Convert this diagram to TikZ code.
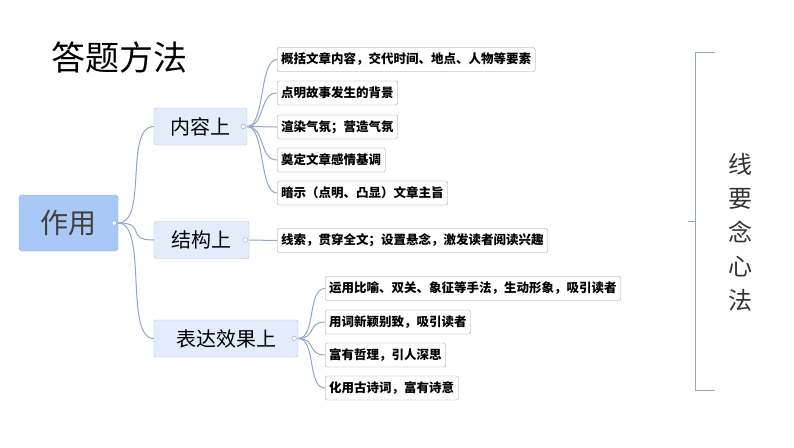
\documentclass[tikz,border=0pt]{standalone}
\usepackage{fontspec}
\newfontfamily\cjk{Noto Sans CJK SC}
\usetikzlibrary{positioning}
\definecolor{rootfill}{HTML}{A9C8F5}
\definecolor{subfill}{HTML}{E3ECFA}
\definecolor{branch}{HTML}{91A5CC}
\tikzset{
  rootbox/.style={draw=branch, fill=rootfill, rounded corners=3pt, font=\cjk\fontsize{28}{30}\selectfont, text=black!75, minimum width=99pt, minimum height=56pt, inner sep=0pt},
  subbox/.style={draw=branch!70, fill=subfill, rounded corners=2pt, font=\cjk\fontsize{20}{22}\selectfont, minimum height=37pt, inner sep=4pt},
  leafbox/.style={draw=black!40, fill=white, rounded corners=1.5pt, font=\cjk\bfseries\fontsize{12.5}{14}\selectfont, minimum height=24pt, inner sep=4pt, anchor=west},
  link/.style={draw=branch, line width=1pt},
  knob/.style={circle, draw=branch, fill=white, inner sep=1.6pt}
}
\begin{document}
\begin{tikzpicture}[x=1pt,y=-1pt]
\useasboundingbox (0,0) rectangle (794,447);
% title
\node[font=\cjk\fontsize{34}{36}\selectfont, anchor=west] (title) at (48,58) {答题方法};
% root and sub topics
\node[rootbox] (root) at (68.5,223) {作用};
\node[subbox, minimum width=93pt] (content) at (200.5,126.5) {内容上};
\node[subbox, minimum width=95pt] (structure) at (201.5,240) {结构上};
\node[subbox, minimum width=144pt] (effect) at (226,338.5) {表达效果上};
% leaves
\node[leafbox] (c1) at (277,59.5) {概括文章内容，交代时间、地点、人物等要素};
\node[leafbox] (c2) at (277,93) {点明故事发生的背景};
\node[leafbox] (c3) at (277,127) {渲染气氛；营造气氛};
\node[leafbox] (c4) at (277,160) {奠定文章感情基调};
\node[leafbox] (c5) at (277,193) {暗示（点明、凸显）文章主旨};
\node[leafbox] (s1) at (277,240.5) {线索，贯穿全文；设置悬念，激发读者阅读兴趣};
\node[leafbox] (e1) at (325,288.5) {运用比喻、双关、象征等手法，生动形象，吸引读者};
\node[leafbox] (e2) at (325,322) {用词新颖别致，吸引读者};
\node[leafbox] (e3) at (325,355) {富有哲理，引人深思};
\node[leafbox] (e4) at (325,388) {化用古诗词，富有诗意};
% connectors
\foreach \t in {content,structure,effect}
  \draw[link] (root.east) .. controls ++(30,0) and ([xshift=-30]\t.west) .. (\t.west);
\foreach \t in {c1,c2,c3,c4,c5}
  \draw[link] (content.east) .. controls ++(18,0) and ([xshift=-18]\t.west) .. (\t.west);
\draw[link] (structure.east) -- (s1.west);
\foreach \t in {e1,e2,e3,e4}
  \draw[link] (effect.east) .. controls ++(18,0) and ([xshift=-18]\t.west) .. (\t.west);
\foreach \p in {root,content,structure,effect}
  \node[knob] at ([xshift=-4]\p.east) {};
% bracket and side text
\coordinate (btop) at (695,52);
\coordinate (bbot) at (695,390);
\draw[branch, line width=1pt] ([xshift=20]btop) -- (btop) -- (bbot) -- ([xshift=20]bbot);
\draw[branch, line width=1pt] (695,221) -- (688,221);
\node[font=\cjk\fontsize{24}{34}\selectfont, align=center, text=black!80] (motto) at (740,232) {线\\要\\念\\心\\法};
\end{tikzpicture}
\end{document}
